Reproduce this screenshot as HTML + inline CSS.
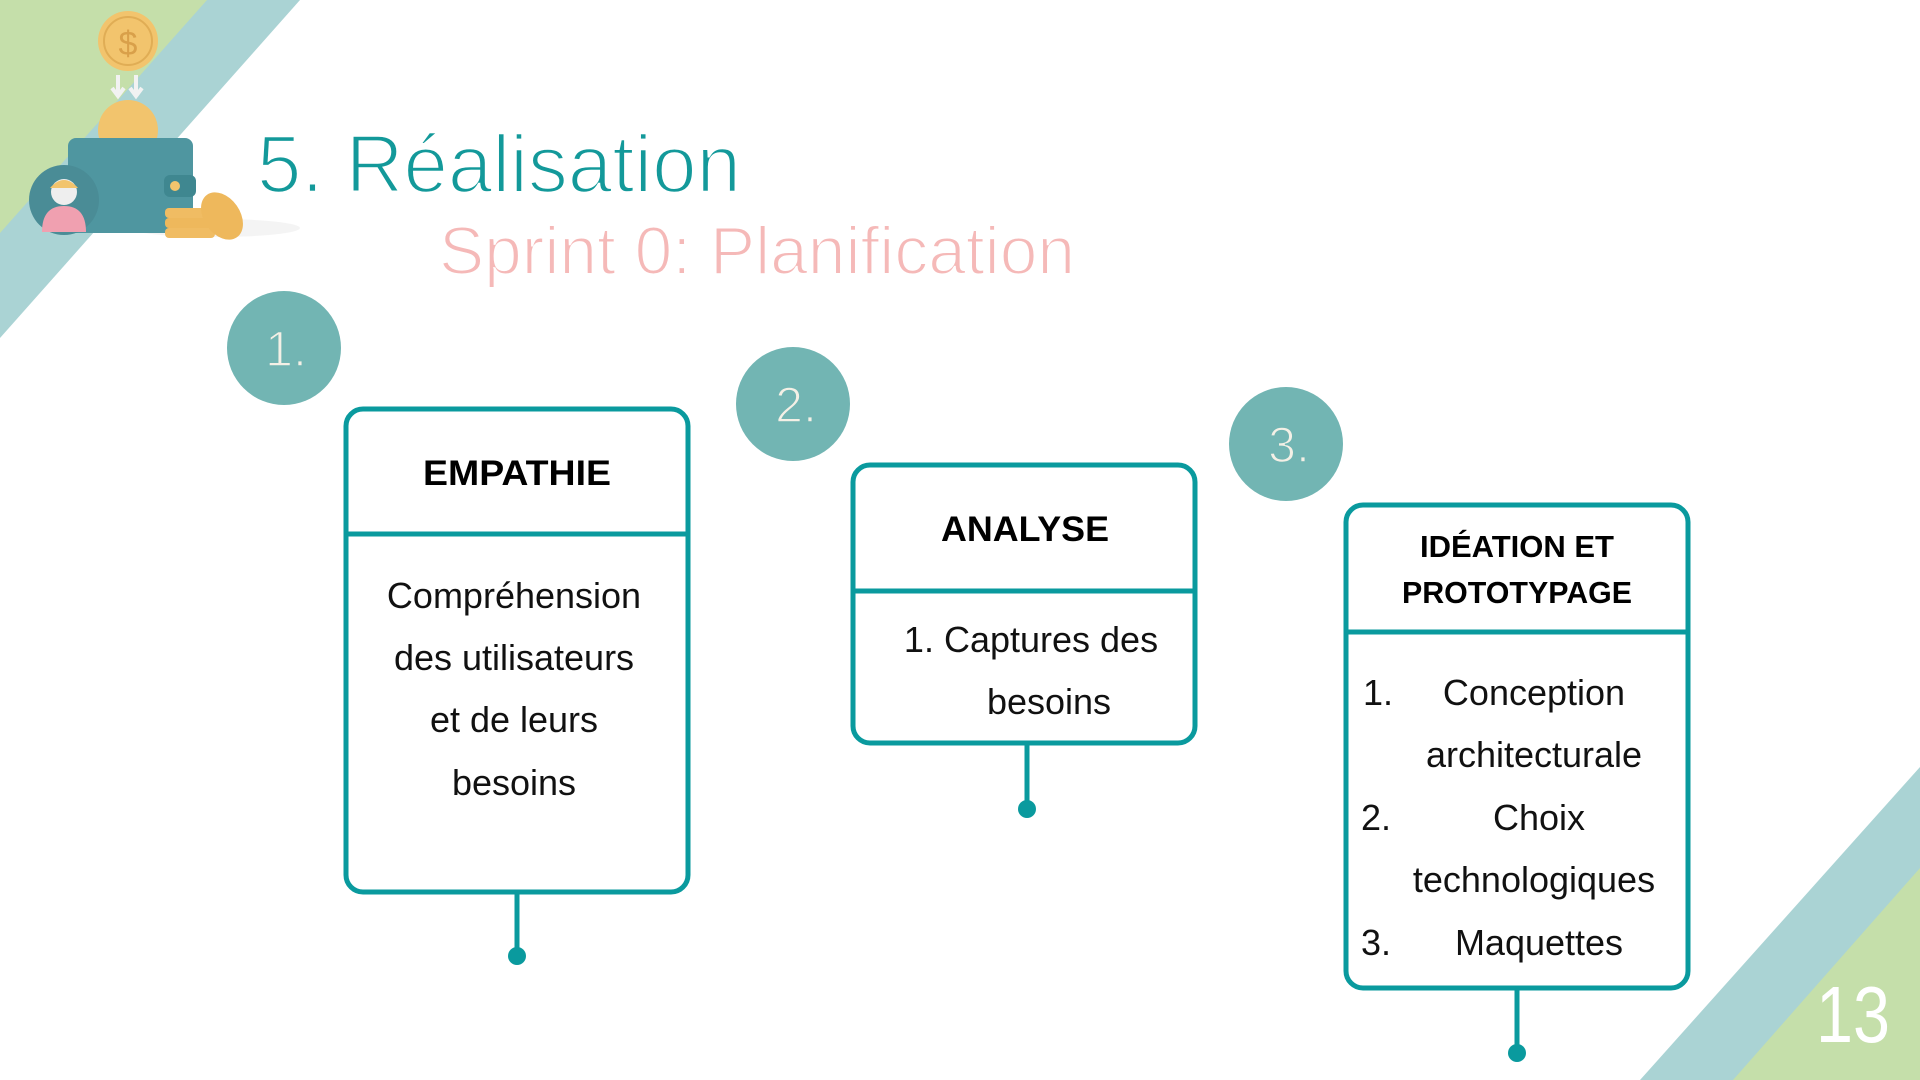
<!DOCTYPE html>
<html><head><meta charset="utf-8"><style>
html,body{margin:0;padding:0;background:#fff;}
svg{display:block;}
text{font-family:"Liberation Sans",sans-serif;}
</style></head><body>
<svg width="1920" height="1080" viewBox="0 0 1920 1080" xmlns="http://www.w3.org/2000/svg">
<rect width="1920" height="1080" fill="#fff"/>
<polygon points="0,0 300,0 0,338" fill="#aad3d4"/>
<polygon points="0,0 207,0 0,233" fill="#c5dfaa"/>
<polygon points="1640,1080 1920,767 1920,1080" fill="#aad3d4"/>
<polygon points="1733,1080 1920,868 1920,1080" fill="#c5dfaa"/>
<text x="1816" y="1042" font-size="80" fill="#fff" textLength="74" lengthAdjust="spacingAndGlyphs">13</text>

<!-- illustration -->
<ellipse cx="215" cy="228" rx="85" ry="9" fill="#ececec" opacity="0.6"/>
<circle cx="128" cy="41" r="30" fill="#f2c46d"/>
<circle cx="128" cy="41" r="24" fill="none" stroke="#e0ad55" stroke-width="2"/>
<text x="128" y="55" font-size="34" fill="#d9a04a" text-anchor="middle">$</text>
<path d="M118 75 v18 M112 88 l6 8 l6 -8 M136 75 v18 M130 88 l6 8 l6 -8" stroke="#f2f2f2" stroke-width="4" fill="none"/>
<circle cx="128" cy="130" r="30" fill="#f2c46d"/>
<rect x="68" y="138" width="125" height="95" rx="8" fill="#4f96a0"/>
<rect x="164" y="175" width="32" height="22" rx="6" fill="#3f8790"/>
<circle cx="175" cy="186" r="5" fill="#f2c46d"/>
<circle cx="64" cy="200" r="35" fill="#4a8c96"/>
<path d="M42 232 q0 -26 22 -26 q22 0 22 26 z" fill="#f0a0b0"/>
<circle cx="64" cy="192" r="13" fill="#eee"/>
<path d="M50 188 q14 -16 28 0 z" fill="#f2c46d"/>
<rect x="165" y="208" width="50" height="10" rx="4" fill="#f0bc63"/>
<rect x="165" y="218" width="50" height="10" rx="4" fill="#eeb85c"/>
<rect x="165" y="228" width="50" height="10" rx="4" fill="#f0bc63"/>
<ellipse cx="222" cy="216" rx="18" ry="26" transform="rotate(-35 222 216)" fill="#eeb85c"/>

<!-- titles -->
<text x="257" y="192" font-size="82" fill="#13999a" stroke="#fff" stroke-width="2.5" textLength="484" lengthAdjust="spacingAndGlyphs">5. Réalisation</text>
<text x="439" y="274" font-size="68" fill="#f5b9b8" stroke="#fff" stroke-width="2" textLength="636" lengthAdjust="spacingAndGlyphs">Sprint 0: Planification</text>

<!-- circles -->
<g fill="#72b5b3"><circle cx="284" cy="348" r="57"/><circle cx="793" cy="404" r="57"/><circle cx="1286" cy="444" r="57"/></g>
<g fill="#f4f0e6" font-size="50" text-anchor="middle" stroke="#72b5b3" stroke-width="1.5">
<text x="286" y="366">1.</text><text x="796" y="422">2.</text><text x="1289" y="462">3.</text></g>

<g fill="none" stroke="#0a9a9e" stroke-width="5">
<rect x="346" y="409" width="342" height="483" rx="17"/>
<line x1="346" y1="534" x2="688" y2="534"/>
<line x1="517" y1="892" x2="517" y2="955"/>
<rect x="853" y="465" width="342" height="278" rx="17"/>
<line x1="853" y1="591" x2="1195" y2="591"/>
<line x1="1027" y1="743" x2="1027" y2="808"/>
<rect x="1346" y="505" width="342" height="483" rx="17"/>
<line x1="1346" y1="632" x2="1688" y2="632"/>
<line x1="1517" y1="988" x2="1517" y2="1052"/>
</g>
<g fill="#0a9a9e"><circle cx="517" cy="956" r="9"/><circle cx="1027" cy="809" r="9"/><circle cx="1517" cy="1053" r="9"/></g>

<g font-weight="bold" font-size="35" fill="#000" text-anchor="middle">
<text x="517" y="485" textLength="188" lengthAdjust="spacingAndGlyphs">EMPATHIE</text>
<text x="1025" y="541" textLength="168" lengthAdjust="spacingAndGlyphs">ANALYSE</text>
<text x="1517" y="557" font-size="31" textLength="194" lengthAdjust="spacingAndGlyphs">IDÉATION ET</text>
<text x="1517" y="603" font-size="31" textLength="230" lengthAdjust="spacingAndGlyphs">PROTOTYPAGE</text>
</g>
<g font-size="36" fill="#111" text-anchor="middle">
<text x="514" y="608">Compréhension</text>
<text x="514" y="670">des utilisateurs</text>
<text x="514" y="732">et de leurs</text>
<text x="514" y="795">besoins</text>
<text x="1031" y="652">1. Captures des</text>
<text x="1049" y="714">besoins</text>
<text x="1534" y="705">Conception</text>
<text x="1534" y="767">architecturale</text>
<text x="1539" y="830">Choix</text>
<text x="1534" y="892">technologiques</text>
<text x="1539" y="955">Maquettes</text>
</g>
<g font-size="36" fill="#111">
<text x="1363" y="705">1.</text><text x="1361" y="830">2.</text><text x="1361" y="955">3.</text>
</g>
</svg>
</body></html>
